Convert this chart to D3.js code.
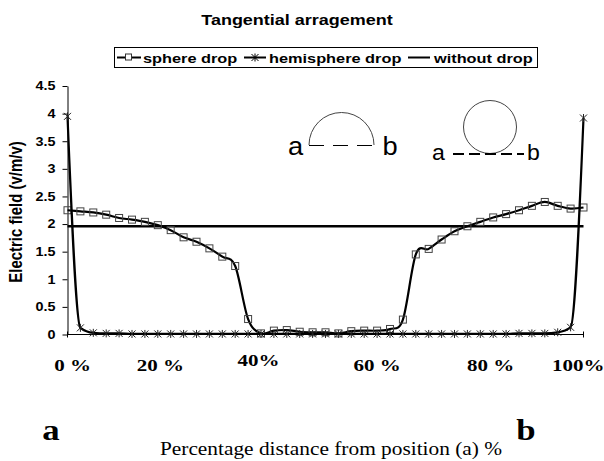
<!DOCTYPE html>
<html>
<head>
<meta charset="utf-8">
<script src="https://cdn.jsdelivr.net/npm/d3@7"></script>
<style>
	body { margin: 0; background: #fff; }
	svg { display: block; }
</style>
</head>
<body>
<svg id="chart" width="604" height="461"></svg>
<script>
// data
var positions = [0, 2.5, 5, 7.5, 10, 12.5, 15, 17.5, 20, 22.5, 25, 27.5, 30, 32.5, 35, 37.5, 40,
	42.5, 45, 47.5, 50, 52.5, 55, 57.5, 60, 62.5, 65, 67.5, 70, 72.5, 75, 77.5, 80,
	82.5, 85, 87.5, 90, 92.5, 95, 97.5, 100];

var sphereDrop = [2.25, 2.23, 2.21, 2.17, 2.11, 2.08, 2.04, 1.98, 1.89, 1.76, 1.68,
	1.56, 1.41, 1.24, 0.28, 0.02, 0.07, 0.08, 0.05, 0.04, 0.04,
	0.02, 0.06, 0.07, 0.07, 0.1, 0.27, 1.45, 1.55, 1.72, 1.87,
	1.96, 2.04, 2.12, 2.18, 2.25, 2.33, 2.4, 2.33, 2.28, 2.3];

var hemisphereDrop = [3.95, 0.12, 0.03, 0.02, 0.02, 0.01, 0.01, 0.01, 0.01, 0.01, 0.01,
	0.01, 0.01, 0.01, 0.01, 0.01, 0.01, 0.01, 0.01, 0.01, 0.01,
	0.01, 0.01, 0.01, 0.01, 0.01, 0.01, 0.01, 0.01, 0.01, 0.01,
	0.01, 0.01, 0.01, 0.01, 0.02, 0.02, 0.02, 0.04, 0.13, 3.92];

var withoutPositions = [0, 100];
var withoutDrop = [1.96, 1.96];

var yTicks = [0, 0.5, 1, 1.5, 2, 2.5, 3, 3.5, 4, 4.5];
var xLabels = ["0 %", "20 %", "40%", "60 %", "80 %", "100%"];
var xLabelPos = [1, 18, 37, 60, 82, 99];

var legendNames = ["sphere drop", "hemisphere drop", "without drop"];

var svg = d3.select("#chart");
var SX = 1.2; // the source text is stretched sideways

var x = d3.scaleLinear().domain([0, 100]).range([67.5, 583.5]);
var y = d3.scaleLinear().domain([0, 4.5]).range([334.5, 86]);

// stretched text helper
function label(parent, px, py, str, size, opts) {
	opts = opts || {};
	var tr = "translate(" + px + "," + py + ") scale(" + (opts.sx || SX) + ",1)";
	if (opts.rotate) tr += " rotate(" + opts.rotate + ")";
	return parent
		.append("g")
		.attr("transform", tr)
		.append("text")
		.attr("text-anchor", opts.anchor || "middle")
		.style("font-family", opts.family || "Arial, 'Liberation Sans', sans-serif")
		.style("font-weight", opts.weight || "bold")
		.style("font-size", size + "px")
		.text(str);
}

function starPath(s) {
	return "M" + -s + "," + -s + "L" + s + "," + s +
		"M" + -s + "," + s + "L" + s + "," + -s +
		"M0," + (-s - 0.5) + "V" + (s + 0.5);
}

var serif = "'Times New Roman', 'Liberation Serif', serif";

// title
label(svg, 297, 25, "Tangential arragement", 15);

// legend
var legend = svg.append("g");
legend
	.append("rect")
	.attr("x", 114.5)
	.attr("y", 47.5)
	.attr("width", 423)
	.attr("height", 20)
	.attr("fill", "#fff")
	.attr("stroke", "#000");

var legX = [[117, 141, 143], [244, 266, 269], [408, 430, 434]];
legX.forEach(function(p, i) {
	legend
		.append("line")
		.attr("x1", p[0]).attr("x2", p[1])
		.attr("y1", 57.5).attr("y2", 57.5)
		.attr("stroke", "#000")
		.attr("stroke-width", 2);
	label(legend, p[2], 63, legendNames[i], 13.6, { anchor: "start" });
});
legend
	.append("rect")
	.attr("x", 125.5).attr("y", 54)
	.attr("width", 6).attr("height", 6)
	.attr("fill", "#fff")
	.attr("stroke", "#333");
legend
	.append("path")
	.attr("transform", "translate(255,57.5)")
	.attr("d", starPath(3.5))
	.attr("stroke", "#000")
	.attr("fill", "none");

// y axis
var yAxis = svg
	.append("g")
	.attr("transform", "translate(67.5,0)")
	.call(d3.axisLeft(y).tickValues(yTicks).tickSize(5).tickSizeOuter(0).tickFormat(d3.format("")));
yAxis.select(".domain").attr("stroke", "#000");
yAxis.selectAll(".tick line").attr("stroke", "#000");
yAxis
	.selectAll(".tick text")
	.attr("x", -10)
	.attr("transform", "scale(" + SX + ",1)")
	.style("font-family", "Arial, 'Liberation Sans', sans-serif")
	.style("font-weight", "bold")
	.style("font-size", "12px")
	.attr("fill", "#000");

// x axis line
svg
	.append("line")
	.attr("x1", x(0)).attr("x2", x(100))
	.attr("y1", y(0)).attr("y2", y(0))
	.attr("stroke", "#000");
svg
	.selectAll(".xEndTick")
	.data([0, 100])
	.enter()
	.append("line")
	.attr("x1", d => x(d)).attr("x2", d => x(d))
	.attr("y1", y(0) - 3).attr("y2", y(0) + 3)
	.attr("stroke", "#000");

// y axis title
label(svg, 22, 212, "Electric field (v/m/v)", 15, { rotate: -90 });

// x labels
xLabels.forEach(function(t, i) {
	label(svg, x(xLabelPos[i]), i == 2 ? 366 : 371, t, 17.5, { family: serif });
});

// big a / b
label(svg, 51, 440, "a", 29, { family: serif });
label(svg, 526, 440, "b", 29, { family: serif });

// x title
label(svg, 331, 455, "Percentage distance from position (a) %", 17.8, {
	family: serif,
	weight: "normal"
});

// little drop sketches
var sketch = svg.append("g");
sketch
	.append("path")
	.attr("d", d3.arc()({ innerRadius: 0, outerRadius: 32.5, startAngle: -Math.PI / 2, endAngle: Math.PI / 2 }).replace(/L0,0Z$/, ""))
	.attr("transform", "translate(341.5,145)")
	.attr("fill", "none")
	.attr("stroke", "#444");
sketch
	.append("line")
	.attr("x1", 309).attr("x2", 374)
	.attr("y1", 145.5).attr("y2", 145.5)
	.attr("stroke", "#000")
	.attr("stroke-dasharray", "15,9");
label(sketch, 295.5, 155, "a", 26, { weight: "normal", sx: 1.05 });
label(sketch, 390, 155, "b", 26, { weight: "normal", sx: 1.05 });

sketch
	.append("circle")
	.attr("cx", 490).attr("cy", 127)
	.attr("r", 26.5)
	.attr("fill", "none")
	.attr("stroke", "#444");
sketch
	.append("line")
	.attr("x1", 453).attr("x2", 524)
	.attr("y1", 154).attr("y2", 154)
	.attr("stroke", "#000")
	.attr("stroke-width", 2)
	.attr("stroke-dasharray", "11,5");
label(sketch, 438.5, 160, "a", 22, { weight: "normal", sx: 1.05 });
label(sketch, 533.5, 160, "b", 22, { weight: "normal", sx: 1.05 });

// series lines
var smooth = d3
	.line()
	.curve(d3.curveCardinal.tension(0))
	.x(d => x(d[0]))
	.y(d => y(d[1]));

// the hemisphere line drops hard, keep it from dipping under the axis
var smoothMono = d3
	.line()
	.curve(d3.curveMonotoneX)
	.x(d => x(d[0]))
	.y(d => y(d[1]));

var withoutG = svg.append("g");
withoutG
	.append("path")
	.attr("d", smooth(d3.zip(withoutPositions, withoutDrop)))
	.attr("fill", "none")
	.attr("stroke", "#000")
	.attr("stroke-width", 2.4);

var sphereG = svg.append("g");
sphereG
	.append("path")
	.attr("d", smooth(d3.zip(positions, sphereDrop)))
	.attr("fill", "none")
	.attr("stroke", "#000")
	.attr("stroke-width", 2.2);
sphereG
	.selectAll("rect")
	.data(d3.zip(positions, sphereDrop))
	.enter()
	.append("rect")
	.attr("x", d => x(d[0]) - 3.5)
	.attr("y", d => y(d[1]) - 3.5)
	.attr("width", 7)
	.attr("height", 7)
	.attr("fill", "none")
	.attr("stroke", "#444");

var hemiG = svg.append("g");
hemiG
	.append("path")
	.attr("d", smoothMono(d3.zip(positions, hemisphereDrop)))
	.attr("fill", "none")
	.attr("stroke", "#000")
	.attr("stroke-width", 2.2);
hemiG
	.selectAll(".star")
	.data(d3.zip(positions, hemisphereDrop))
	.enter()
	.append("path")
	.classed("star", true)
	.attr("transform", d => "translate(" + x(d[0]) + "," + y(d[1]) + ")")
	.attr("d", starPath(3.5))
	.attr("fill", "none")
	.attr("stroke", "#222");
</script>
</body>
</html>
